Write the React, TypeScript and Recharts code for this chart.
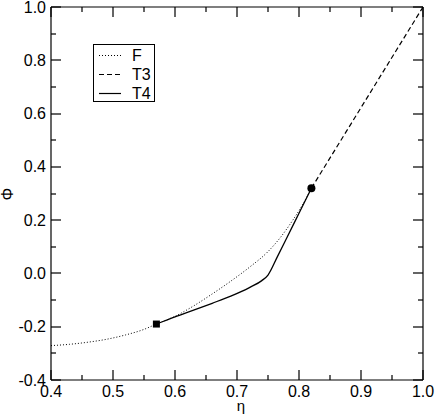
import React from "react";
import {
  ComposedChart,
  Line,
  Scatter,
  XAxis,
  YAxis,
  Label,
} from "recharts";

// curves (eta, phi)
const fCurve = [
  { x: 0.4, y: -0.271 },
  { x: 0.43, y: -0.266 },
  { x: 0.46, y: -0.258 },
  { x: 0.49, y: -0.247 },
  { x: 0.52, y: -0.231 },
  { x: 0.55, y: -0.21 },
  { x: 0.57, y: -0.19 },
  { x: 0.6, y: -0.161 },
  { x: 0.63, y: -0.122 },
  { x: 0.66, y: -0.077 },
  { x: 0.69, y: -0.029 },
  { x: 0.72, y: 0.023 },
  { x: 0.75, y: 0.082 },
  { x: 0.77, y: 0.135 },
  { x: 0.79, y: 0.2 },
  { x: 0.805, y: 0.255 },
  { x: 0.82, y: 0.32 },
];

const t3Curve = [
  { x: 0.82, y: 0.32 },
  { x: 1.0, y: 1.0 },
];

const t4Curve = [
  { x: 0.57, y: -0.19 },
  { x: 0.6, y: -0.163 },
  { x: 0.63, y: -0.138 },
  { x: 0.66, y: -0.112 },
  { x: 0.69, y: -0.085 },
  { x: 0.72, y: -0.053 },
  { x: 0.74, y: -0.027 },
  { x: 0.75, y: -0.006 },
  { x: 0.765, y: 0.062 },
  { x: 0.78, y: 0.132 },
  { x: 0.8, y: 0.226 },
  { x: 0.82, y: 0.32 },
];

const squarePoint = [{ x: 0.57, y: -0.19 }];
const circlePoint = [{ x: 0.82, y: 0.32 }];

const xTicks = [0.4, 0.45, 0.5, 0.55, 0.6, 0.65, 0.7, 0.75, 0.8, 0.85, 0.9, 0.95, 1.0];
const yTicks = [-0.4, -0.3, -0.2, -0.1, 0, 0.1, 0.2, 0.3, 0.4, 0.5, 0.6, 0.7, 0.8, 0.9, 1.0];
const xMajor = [0.4, 0.5, 0.6, 0.7, 0.8, 0.9, 1.0];
const yMajor = [-0.4, -0.2, 0, 0.2, 0.4, 0.6, 0.8, 1.0];

const legendItems = [
  { name: "F", dash: "1 2" },
  { name: "T3", dash: "5 3" },
  { name: "T4", dash: undefined },
];

const FONT = "'Liberation Sans', Arial, Helvetica, sans-serif";
const isMajor = (v: number, list: number[]) => list.some((m) => Math.abs(m - v) < 1e-6);

// ticks point into the plot; labels only on the bottom/left majors
function Tick(props: any) {
  const { x, y, payload, side } = props;
  const v = payload.value as number;
  const major = isMajor(v, side === "bottom" || side === "top" ? xMajor : yMajor);
  const len = major ? 10 : 5;
  const px = Math.round(x);
  const py = Math.round(y);
  let r = { x: 0, y: 0, w: 0, h: 0 };
  if (side === "bottom") r = { x: px - 0.6, y: py - len, w: 1.2, h: len };
  else if (side === "top") r = { x: px - 0.6, y: py, w: 1.2, h: len };
  else if (side === "left") r = { x: px, y: py - 0.6, w: len, h: 1.2 };
  else r = { x: px - len, y: py - 0.6, w: len, h: 1.2 };
  return (
    <g>
      <rect x={r.x} y={r.y} width={r.w} height={r.h} fill="#000" />
      {major && side === "bottom" && (
        <text x={x} y={y + 17} textAnchor="middle" fontSize={16} fontFamily={FONT} fill="#000">
          {v.toFixed(1)}
        </text>
      )}
      {major && side === "left" && (
        <text x={x - 5} y={y + 5.5} textAnchor="end" fontSize={16} fontFamily={FONT} fill="#000">
          {v.toFixed(1)}
        </text>
      )}
    </g>
  );
}

function LegendBox() {
  return (
    <div
      style={{
        position: "absolute",
        left: 93,
        top: 44,
        width: 60,
        height: 56,
        border: "1px solid #000",
        background: "#fff",
      }}
    >
      <svg width={60} height={56}>
        {legendItems.map((d, i) => (
          <g key={d.name}>
            <line
              x1={5}
              x2={27}
              y1={10.5 + i * 19}
              y2={10.5 + i * 19}
              stroke="#000"
              strokeWidth={d.dash === "1 2" ? 1 : 1.2}
              strokeDasharray={d.dash}
            />
            <text x={38} y={16 + i * 19} fontSize={16} fontFamily={FONT} fill="#000">
              {d.name}
            </text>
          </g>
        ))}
      </svg>
    </div>
  );
}

const axisLine = { stroke: "#000", strokeWidth: 1.2 };

export default function App() {
  return (
    <div style={{ position: "absolute", left: 0, top: 0, width: 436, height: 417, background: "#fff" }}>
      <ComposedChart width={436} height={417} margin={{ top: 6, right: 12, bottom: 0, left: 0 }}>
        <XAxis
          xAxisId="b"
          type="number"
          dataKey="x"
          domain={[0.4, 1.0]}
          ticks={xTicks}
          interval={0}
          height={37}
          tickSize={0}
          tickMargin={0}
          tickLine={false}
          axisLine={axisLine}
          tick={(p: any) => <Tick {...p} side="bottom" />}
          allowDataOverflow
        >
          <Label
            content={() => (
              <text x={241} y={411} textAnchor="middle" fontSize={15} fontFamily={FONT} fill="#000">
                η
              </text>
            )}
          />
        </XAxis>
        <XAxis
          xAxisId="t"
          orientation="top"
          type="number"
          dataKey="x"
          domain={[0.4, 1.0]}
          ticks={xTicks}
          interval={0}
          height={1}
          tickSize={0}
          tickMargin={0}
          tickLine={false}
          axisLine={axisLine}
          tick={(p: any) => <Tick {...p} side="top" />}
          allowDataOverflow
        />
        <YAxis
          yAxisId="l"
          type="number"
          domain={[-0.4, 1.0]}
          ticks={yTicks}
          interval={0}
          width={51}
          tickSize={0}
          tickMargin={0}
          tickLine={false}
          axisLine={axisLine}
          tick={(p: any) => <Tick {...p} side="left" />}
          allowDataOverflow
        >
          <Label
            content={() => (
              <text
                x={0}
                y={0}
                transform="translate(13,194) rotate(-90)"
                textAnchor="middle"
                fontSize={16}
                fontFamily={FONT}
                fill="#000"
              >
                Φ
              </text>
            )}
          />
        </YAxis>
        <YAxis
          yAxisId="r"
          orientation="right"
          type="number"
          domain={[-0.4, 1.0]}
          ticks={yTicks}
          interval={0}
          width={1}
          tickSize={0}
          tickMargin={0}
          tickLine={false}
          axisLine={axisLine}
          tick={(p: any) => <Tick {...p} side="right" />}
          allowDataOverflow
        />
        <Line
          xAxisId="b"
          yAxisId="l"
          data={fCurve}
          dataKey="y"
          type="monotone"
          stroke="#000"
          strokeWidth={1}
          strokeDasharray="1 2"
          dot={false}
          isAnimationActive={false}
        />
        <Line
          xAxisId="b"
          yAxisId="l"
          data={t3Curve}
          dataKey="y"
          type="linear"
          stroke="#000"
          strokeWidth={1.2}
          strokeDasharray="5 3"
          dot={false}
          isAnimationActive={false}
        />
        <Line
          xAxisId="b"
          yAxisId="l"
          data={t4Curve}
          dataKey="y"
          type="monotone"
          stroke="#000"
          strokeWidth={1.3}
          dot={false}
          isAnimationActive={false}
        />
        <Line
          xAxisId="t"
          yAxisId="r"
          data={t3Curve}
          dataKey="y"
          stroke="none"
          dot={false}
          legendType="none"
          isAnimationActive={false}
        />
        <Scatter
          xAxisId="b"
          yAxisId="l"
          data={squarePoint}
          dataKey="y"
          fill="#000"
          isAnimationActive={false}
          shape={(p: any) => <rect x={p.cx - 3.5} y={p.cy - 3.5} width={7} height={7} fill="#000" />}
        />
        <Scatter
          xAxisId="b"
          yAxisId="l"
          data={circlePoint}
          dataKey="y"
          fill="#000"
          isAnimationActive={false}
          shape={(p: any) => <circle cx={p.cx} cy={p.cy} r={4} fill="#000" />}
        />
      </ComposedChart>
      <LegendBox />
    </div>
  );
}
